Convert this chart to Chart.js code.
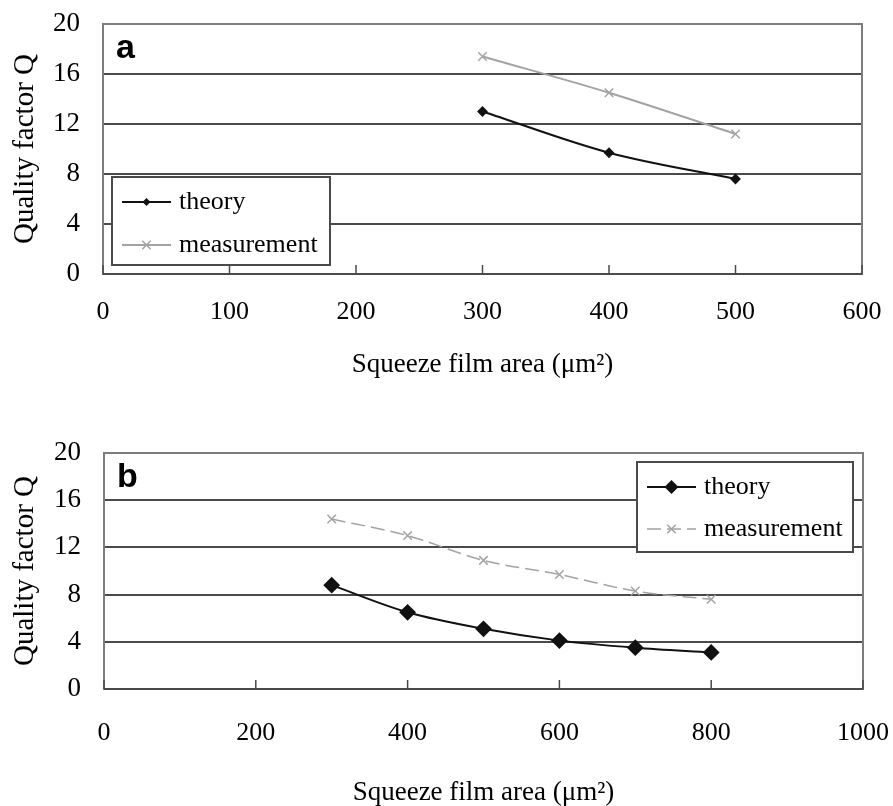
<!DOCTYPE html>
<html>
<head>
<meta charset="utf-8">
<script src="https://cdn.jsdelivr.net/npm/chart.js@4.4.1/dist/chart.umd.min.js"></script>
<style>
  body { margin: 0; background: #fff; }
  .wrap { position: absolute; left: 0; width: 893px; }
</style>
</head>
<body>
<div class="wrap" style="top:0px;height:395px"><canvas id="chartA" width="893" height="395"></canvas></div>
<div class="wrap" style="top:380px;height:426px"><canvas id="chartB" width="893" height="426"></canvas></div>
<script>
// panel a
var areaA = [300, 400, 500];
var theoryA = [13.0, 9.7, 7.6];
var measA = [17.4, 14.5, 11.2];
// panel b
var areaB = [300, 400, 500, 600, 700, 800];
var theoryB = [8.8, 6.5, 5.1, 4.1, 3.5, 3.1];
var measB = [14.4, 13.0, 10.9, 9.7, 8.3, 7.6];

var yMax = 20, yStep = 4;
var xMaxA = 600, xStepA = 100;
var xMaxB = 1000, xStepB = 200;
var seriesNames = ['theory', 'measurement'];
var xTitle = 'Squeeze film area (\u03bcm\u00b2)';
var yTitle = 'Quality factor Q';

var SERIF = '"Liberation Serif", "Times New Roman", serif';

function pts(xs, ys) {
    return xs.map(function (x, i) { return { x: x, y: ys[i] }; });
}

function drawMarker(ctx, style, x, y, r, color) {
    ctx.save();
    ctx.strokeStyle = color;
    ctx.fillStyle = color;
    ctx.setLineDash([]);
    ctx.lineWidth = 1.5;
    ctx.beginPath();
    if (style === 'rectRot') {
        ctx.moveTo(x, y - r); ctx.lineTo(x + r, y); ctx.lineTo(x, y + r); ctx.lineTo(x - r, y);
        ctx.closePath(); ctx.fill();
    } else {
        var d = r * 0.7;
        ctx.moveTo(x - d, y - d); ctx.lineTo(x + d, y + d);
        ctx.moveTo(x + d, y - d); ctx.lineTo(x - d, y + d);
        ctx.stroke();
    }
    ctx.restore();
}

// frame, inner x ticks, panel letter and the boxed legend
var panelDecor = {
    id: 'panelDecor',
    afterDatasetsDraw: function (chart, args, opts) {
        var ctx = chart.ctx, a = chart.chartArea, xs = chart.scales.x;
        ctx.save();
        ctx.strokeStyle = '#7d7d7d';
        ctx.lineWidth = 2;
        ctx.strokeRect(a.left, a.top, a.right - a.left, a.bottom - a.top);
        // bottom axis line
        ctx.strokeStyle = '#4a4a4a';
        ctx.beginPath(); ctx.moveTo(a.left, a.bottom); ctx.lineTo(a.right, a.bottom); ctx.stroke();
        // inward tick marks
        ctx.lineWidth = 1.5;
        xs.ticks.forEach(function (t) {
            var px = xs.getPixelForValue(t.value);
            ctx.beginPath(); ctx.moveTo(px, a.bottom); ctx.lineTo(px, a.bottom - 9); ctx.stroke();
        });
        // panel letter
        ctx.fillStyle = '#000';
        ctx.font = 'bold 34px "Liberation Sans", Arial, sans-serif';
        ctx.textBaseline = 'alphabetic';
        ctx.fillText(opts.letter, a.left + 13, a.top + 34);

        // legend box
        var bx = opts.fromRight ? a.right - opts.dx - opts.w : a.left + opts.dx;
        var by = a.top + opts.dy;
        ctx.fillStyle = '#fff';
        ctx.fillRect(bx, by, opts.w, opts.h);
        ctx.strokeStyle = '#4a4a4a';
        ctx.lineWidth = 2;
        ctx.strokeRect(bx, by, opts.w, opts.h);
        chart.data.datasets.forEach(function (ds, i) {
            var ry = by + opts.rows[i];
            ctx.save();
            ctx.strokeStyle = ds.borderColor;
            ctx.lineWidth = ds.borderWidth;
            ctx.setLineDash(ds.borderDash || []);
            ctx.beginPath(); ctx.moveTo(bx + 10, ry); ctx.lineTo(bx + 59, ry); ctx.stroke();
            ctx.restore();
            drawMarker(ctx, ds.pointStyle, bx + 34.5, ry, ds.pointRadius, ds.pointBorderColor || ds.borderColor);
            ctx.fillStyle = '#000';
            ctx.font = '26px ' + SERIF;
            ctx.textBaseline = 'middle';
            ctx.fillText(ds.label, bx + 67, ry);
        });
        ctx.restore();
    }
};

function makeChart(id, xs, th, me, cfg) {
    var ctx = document.getElementById(id).getContext('2d');
    return new Chart(ctx, {
        type: 'line',
        data: {
            datasets: [{
                label: seriesNames[0],
                data: pts(xs, th),
                borderColor: '#111',
                backgroundColor: '#111',
                borderWidth: 2,
                pointStyle: 'rectRot',
                pointRadius: cfg.diamond,
                pointBackgroundColor: '#111',
                pointBorderColor: '#111',
                cubicInterpolationMode: 'monotone',
                fill: false
            }, {
                label: seriesNames[1],
                data: pts(xs, me),
                borderColor: '#a3a3a3',
                backgroundColor: '#a3a3a3',
                borderWidth: cfg.measWidth,
                borderDash: cfg.dash,
                pointStyle: 'crossRot',
                pointRadius: 6,
                pointBorderWidth: 1.5,
                pointBorderColor: '#a3a3a3',
                cubicInterpolationMode: 'monotone',
                fill: false
            }]
        },
        options: {
            responsive: false,
            animation: false,
            layout: { padding: { top: cfg.top, right: cfg.right, left: 0, bottom: 0 } },
            plugins: {
                legend: { display: false },
                tooltip: { enabled: false },
                panelDecor: cfg.decor
            },
            scales: {
                x: {
                    type: 'linear',
                    min: 0, max: cfg.xMax,
                    grid: { display: false, drawTicks: false },
                    border: { display: false },
                    ticks: {
                        stepSize: cfg.xStep,
                        padding: cfg.xPad,
                        color: '#000',
                        font: { family: SERIF, size: 26 },
                        maxRotation: 0,
                        callback: function (v) { return String(v); }
                    },
                    title: {
                        display: true,
                        text: xTitle,
                        color: '#000',
                        font: { family: SERIF, size: 27, lineHeight: 1 },
                        padding: { top: 0, bottom: cfg.titlePad }
                    },
                    afterFit: function (s) {
                        s.height = cfg.xHeight;
                        s.paddingLeft = 0; s.paddingRight = 0;
                    }
                },
                y: {
                    min: 0, max: yMax,
                    grid: { color: '#4a4a4a', lineWidth: 2, drawTicks: false },
                    border: { display: false },
                    ticks: {
                        stepSize: yStep,
                        padding: 23,
                        color: '#000',
                        font: { family: SERIF, size: 27 }
                    },
                    title: {
                        display: true,
                        text: yTitle,
                        color: '#000',
                        font: { family: SERIF, size: 29, lineHeight: 1 },
                        padding: { top: 11, bottom: 0 }
                    },
                    afterFit: function (s) {
                        s.width = cfg.yWidth;
                        s.paddingTop = 0; s.paddingBottom = 0;
                    }
                }
            }
        },
        plugins: [panelDecor]
    });
}

makeChart('chartA', areaA, theoryA, measA, {
    xMax: xMaxA, xStep: xStepA,
    diamond: 4, measWidth: 2, dash: [],
    top: 24, right: 31, yWidth: 103, xHeight: 121, xPad: 23, titlePad: 17,
    decor: { letter: 'a', fromRight: false, dx: 9, dy: 153, w: 218, h: 88, rows: [25, 68] }
});

makeChart('chartB', areaB, theoryB, measB, {
    xMax: xMaxB, xStep: xStepB,
    diamond: 7, measWidth: 1.5, dash: [14, 6],
    top: 73, right: 30, yWidth: 104, xHeight: 117, xPad: 29, titlePad: 0,
    decor: { letter: 'b', fromRight: true, dx: 10, dy: 9, w: 216, h: 90, rows: [25, 67] }
});
</script>
</body>
</html>
